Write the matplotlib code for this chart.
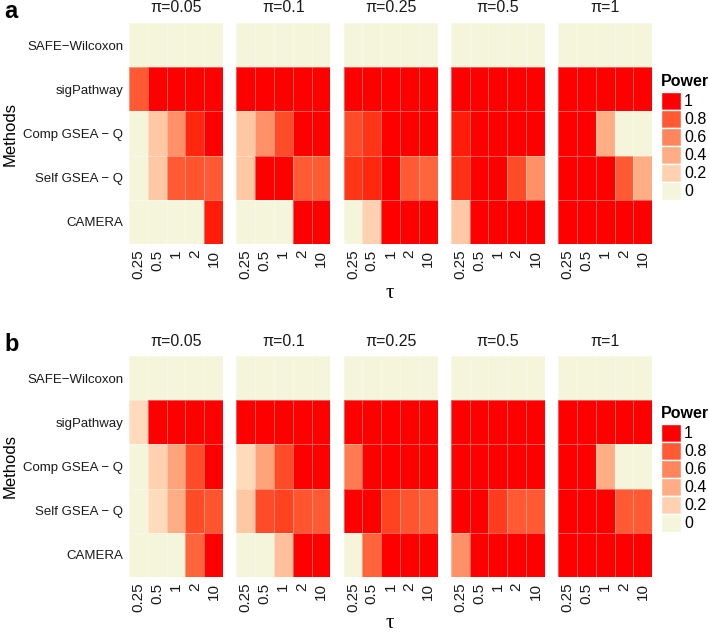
import matplotlib.pyplot as plt
import numpy as np
from matplotlib.colors import ListedColormap
from matplotlib.patches import Rectangle

plt.rcParams['font.family'] = ['Liberation Sans', 'DejaVu Sans']

methods = ["SAFE\u2212Wilcoxon", "sigPathway", "Comp GSEA \u2212 Q", "Self GSEA \u2212 Q", "CAMERA"]
tau_labels = ["0.25", "0.5", "1", "2", "10"]
pi_labels = ["\u03c0=0.05", "\u03c0=0.1", "\u03c0=0.25", "\u03c0=0.5", "\u03c0=1"]
legend_breaks = [1.0, 0.8, 0.6, 0.4, 0.2, 0.0]

# power[pi][method][tau], panel a
power_a = [
    [[0, 0, 0, 0, 0],
     [0.8, 1, 1, 1, 1],
     [0, 0.25, 0.55, 0.95, 1],
     [0, 0.25, 0.8, 0.82, 0.8],
     [0, 0, 0, 0, 0.97]],
    [[0, 0, 0, 0, 0],
     [1, 1, 1, 1, 1],
     [0.25, 0.55, 0.85, 1, 1],
     [0.25, 1, 1, 0.8, 0.8],
     [0, 0, 0, 1, 1]],
    [[0, 0, 0, 0, 0],
     [1, 1, 1, 1, 1],
     [0.85, 0.92, 1, 1, 1],
     [0.92, 0.95, 1, 0.8, 0.75],
     [0, 0.2, 1, 1, 1]],
    [[0, 0, 0, 0, 0],
     [1, 1, 1, 1, 1],
     [0.97, 1, 1, 1, 1],
     [0.93, 1, 1, 0.85, 0.55],
     [0.25, 1, 1, 1, 1]],
    [[0, 0, 0, 0, 0],
     [1, 1, 1, 1, 1],
     [1, 1, 0.4, 0, 0],
     [1, 1, 1, 0.8, 0.4],
     [1, 1, 1, 1, 1]],
]

# panel b
power_b = [
    [[0, 0, 0, 0, 0],
     [0.15, 1, 1, 1, 1],
     [0, 0.2, 0.45, 0.85, 1],
     [0, 0.15, 0.4, 0.85, 0.82],
     [0, 0, 0, 0.75, 1]],
    [[0, 0, 0, 0, 0],
     [1, 1, 1, 1, 1],
     [0.15, 0.45, 0.85, 1, 1],
     [0.25, 0.85, 0.88, 0.82, 0.8],
     [0, 0, 0.3, 1, 1]],
    [[0, 0, 0, 0, 0],
     [1, 1, 1, 1, 1],
     [0.65, 1, 1, 1, 1],
     [1, 1, 0.88, 0.82, 0.78],
     [0, 0.75, 1, 1, 1]],
    [[0, 0, 0, 0, 0],
     [1, 1, 1, 1, 1],
     [1, 1, 1, 1, 1],
     [1, 1, 0.9, 0.8, 0.8],
     [0.55, 1, 1, 1, 1]],
    [[0, 0, 0, 0, 0],
     [1, 1, 1, 1, 1],
     [1, 1, 0.4, 0, 0],
     [1, 1, 1, 0.8, 0.8],
     [1, 1, 1, 1, 1]],
]

# beige -> red gradient interpolated in CIELAB (like ggplot)
M = np.array([[0.4124, 0.3576, 0.1805], [0.2126, 0.7152, 0.0722], [0.0193, 0.1192, 0.9505]])
WP = np.array([0.95047, 1.0, 1.08883])


def to_lab(rgb):
    c = np.asarray(rgb) / 255
    lin = np.where(c <= 0.04045, c / 12.92, ((c + 0.055) / 1.055) ** 2.4)
    t = (M @ lin) / WP
    f = np.where(t > (6 / 29) ** 3, np.cbrt(t), t / (3 * (6 / 29) ** 2) + 4 / 29)
    return np.array([116 * f[1] - 16, 500 * (f[0] - f[1]), 200 * (f[1] - f[2])])


def from_lab(lab):
    fy = (lab[0] + 16) / 116
    f = np.array([fy + lab[1] / 500, fy, fy - lab[2] / 200])
    t = np.where(f > 6 / 29, f ** 3, 3 * (6 / 29) ** 2 * (f - 4 / 29))
    lin = np.clip(np.linalg.inv(M) @ (t * WP), 0, 1)
    c = np.where(lin <= 0.0031308, 12.92 * lin, 1.055 * lin ** (1 / 2.4) - 0.055)
    return np.clip(c, 0, 1)


lo, hi = to_lab((245, 245, 220)), to_lab((255, 0, 0))
cmap = ListedColormap([from_lab(lo + (hi - lo) * s) for s in np.linspace(0, 1, 256)])

W, H = 709, 634
fig = plt.figure(figsize=(W / 100, H / 100), dpi=100)


def fx(x):
    return x / W


def fy(y):
    return 1 - y / H


def draw_panel(data, letter, top, bottom, legend_top, tau_y):
    x0, width, step = 129, 94, 107.3
    for k, mat in enumerate(data):
        left = x0 + k * step
        ax = fig.add_axes([fx(left), fy(bottom), width / W, (bottom - top) / H])
        ax.pcolormesh(np.array(mat), cmap=cmap, vmin=0, vmax=1,
                      edgecolors=(1, 1, 1, 0.35), linewidth=0.4)
        ax.set_xlim(0, 5)
        ax.set_ylim(5, 0)
        for s in ax.spines.values():
            s.set_visible(False)
        ax.set_xticks(np.arange(5) + 0.5)
        ax.set_xticklabels(tau_labels, rotation=90, fontsize=11, color='#1a1a1a')
        ax.tick_params(length=0, pad=4)
        if k == 0:
            ax.set_yticks(np.arange(5) + 0.5)
            ax.set_yticklabels(methods, fontsize=9.5, color='#1a1a1a')
        else:
            ax.set_yticks([])
        fig.text(fx(left + width / 2), fy(top - 15), pi_labels[k], fontsize=11.5,
                 ha='center', va='center', color='#1a1a1a')

    fig.text(fx(10), fy((top + bottom) / 2), "Methods", rotation=90, fontsize=12,
             ha='center', va='center')
    fig.text(fx(390), fy(tau_y), "\u03c4", fontsize=15, ha='center', va='center',
             family=['Liberation Serif', 'DejaVu Serif'])
    fig.text(fx(4), fy(top - 11), letter, fontsize=17, fontweight='bold',
             ha='left', va='center')

    # legend
    lax = fig.add_axes([0, 0, 1, 1], facecolor='none')
    lax.set_xlim(0, W)
    lax.set_ylim(H, 0)
    lax.axis('off')
    lax.text(661, legend_top - 10, "Power", fontsize=11.5, fontweight='bold',
             ha='left', va='center')
    key_h = 18
    for i, v in enumerate(legend_breaks):
        y = legend_top + i * key_h
        lax.add_patch(Rectangle((661, y), 20, key_h, facecolor=cmap(float(v)),
                                edgecolor='white', linewidth=1))
        lax.text(684, y + key_h / 2, f"{v:g}", fontsize=11.5, ha='left', va='center')


draw_panel(power_a, "a", 23, 244, 92, 294)
draw_panel(power_b, "b", 356, 577, 424, 624)

fig.savefig("out.png", dpi=100)
